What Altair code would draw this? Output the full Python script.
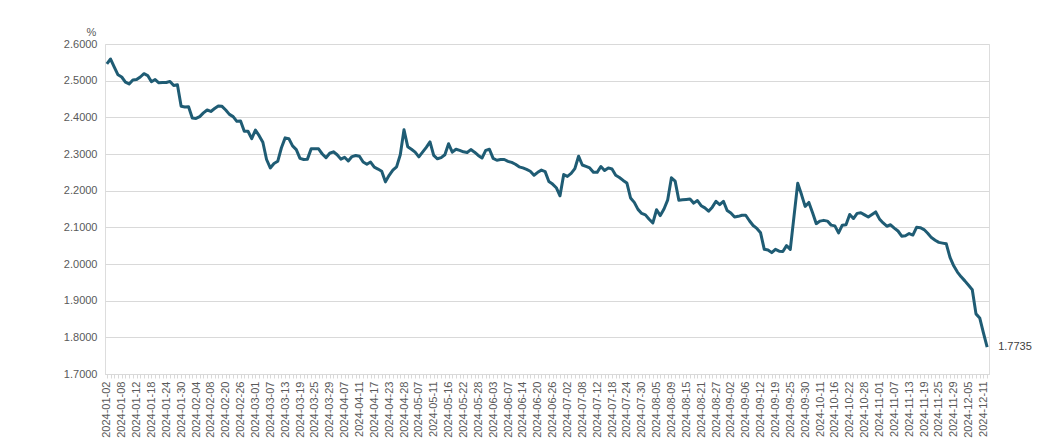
import altair as alt
import pandas as pd

# China interbank trading calendar 2024 (weekdays minus holidays plus weekend make-up days)
first_day, last_day = "2024-01-02", "2024-12-12"
holidays = ["2024-01-01", "2024-02-12", "2024-02-13", "2024-02-14", "2024-02-15", "2024-02-16",
            "2024-04-04", "2024-04-05", "2024-05-01", "2024-05-02", "2024-05-03", "2024-06-10",
            "2024-09-16", "2024-09-17", "2024-10-01", "2024-10-02", "2024-10-03", "2024-10-04",
            "2024-10-07"]
makeup_days = ["2024-02-04", "2024-02-18", "2024-04-07", "2024-04-28", "2024-05-11",
               "2024-09-14", "2024-09-29", "2024-10-12"]

bdays = set(pd.bdate_range(first_day, last_day).strftime("%Y-%m-%d"))
days = sorted((bdays - set(holidays)) | set(makeup_days))

# yield values (%), per quarter
q1 = [2.546, 2.559, 2.537, 2.516, 2.510, 2.496, 2.491, 2.502, 2.503, 2.510,
      2.519, 2.514, 2.497, 2.503, 2.494, 2.495, 2.495, 2.498, 2.487, 2.489,
      2.430, 2.428, 2.429, 2.398, 2.397, 2.402, 2.412, 2.420, 2.416, 2.424,
      2.431, 2.430, 2.420, 2.408, 2.402, 2.389, 2.390, 2.362, 2.362, 2.342,
      2.365, 2.350, 2.332, 2.285, 2.262, 2.274, 2.280, 2.317, 2.344, 2.342,
      2.322, 2.312, 2.288, 2.285, 2.286, 2.314, 2.314, 2.314, 2.300, 2.290,
      2.302]
q2 = [2.306, 2.298, 2.286, 2.291, 2.281, 2.293, 2.296, 2.294, 2.278, 2.272,
      2.278, 2.264, 2.259, 2.253, 2.224, 2.242, 2.256, 2.265, 2.298, 2.366,
      2.320, 2.313, 2.305, 2.292, 2.305, 2.318, 2.333, 2.296, 2.287, 2.290,
      2.298, 2.328, 2.305, 2.313, 2.310, 2.306, 2.304, 2.312, 2.305, 2.296,
      2.289, 2.310, 2.313, 2.288, 2.283, 2.285, 2.285, 2.280, 2.277, 2.272,
      2.265, 2.262, 2.258, 2.253, 2.242, 2.250, 2.256, 2.252, 2.225, 2.218,
      2.208, 2.186]
q3 = [2.244, 2.239, 2.247, 2.260, 2.294, 2.270, 2.266, 2.262, 2.250, 2.250,
      2.266, 2.255, 2.262, 2.259, 2.242, 2.236, 2.228, 2.221, 2.180, 2.168,
      2.149, 2.138, 2.134, 2.122, 2.112, 2.148, 2.132, 2.150, 2.175, 2.235,
      2.226, 2.174, 2.175, 2.176, 2.177, 2.166, 2.173, 2.159, 2.153, 2.144,
      2.155, 2.171, 2.162, 2.171, 2.146, 2.139, 2.128, 2.130, 2.133, 2.133,
      2.118, 2.105, 2.097, 2.085, 2.040, 2.038, 2.031, 2.040, 2.035, 2.034,
      2.050, 2.040, 2.130, 2.220, 2.190, 2.157]
q4 = [2.168, 2.140, 2.110, 2.117, 2.119, 2.117, 2.106, 2.104, 2.085, 2.106,
      2.107, 2.135, 2.124, 2.138, 2.140, 2.134, 2.128, 2.135, 2.142, 2.123,
      2.112, 2.103, 2.107, 2.098, 2.090, 2.076, 2.077, 2.083, 2.079, 2.100,
      2.099, 2.094, 2.084, 2.072, 2.065, 2.059, 2.057, 2.055, 2.018, 1.995,
      1.978, 1.965, 1.954, 1.942, 1.930, 1.864, 1.853, 1.812, 1.7735]
values = q1 + q2 + q3 + q4

y_ticks = [1.7, 1.8, 1.9, 2.0, 2.1, 2.2, 2.3, 2.4, 2.5, 2.6]
shown_labels = days[::4]

df = pd.DataFrame({"date": days, "value": values})

label_list = "[" + ",".join("'%s'" % d for d in shown_labels) + "]"
grey = "#595959"
line_color = "#1f5c74"

x_enc = alt.X(
    "date:O",
    sort=None,
    scale=alt.Scale(type="point", padding=0.5, domain=days),
    axis=alt.Axis(
        title=None,
        grid=False,
        labelExpr="indexof(" + label_list + ", datum.value) >= 0 ? datum.value : ''",
        labelAngle=270,
        labelAlign="right",
        labelBaseline="middle",
        labelOverlap=False,
        labelFontSize=11,
        labelColor=grey,
        labelPadding=3,
        domainColor="#d9d9d9",
        tickColor="#d9d9d9",
        tickSize=4,
    ),
)
y_enc = alt.Y(
    "value:Q",
    scale=alt.Scale(domain=[1.7, 2.6], nice=False, zero=False),
    axis=alt.Axis(
        values=y_ticks,
        format=".4f",
        title="%",
        titleAngle=0,
        titleX=-14,
        titleY=-12,
        titleAlign="center",
        titleBaseline="middle",
        titleFontWeight="normal",
        titleFontSize=11,
        titleColor=grey,
        domain=False,
        ticks=False,
        labelPadding=8,
        labelFontSize=11,
        labelColor=grey,
        gridColor="#d9d9d9",
    ),
)

line = alt.Chart(df).mark_line(color=line_color, strokeWidth=3, strokeJoin="round").encode(
    x=x_enc, y=y_enc
)
last_label = alt.Chart(df).transform_filter(alt.datum.date == days[-1]).mark_text(
    align="left", baseline="middle", dx=11, fontSize=11, color="#404040"
).encode(x=x_enc, y=y_enc, text=alt.Text("value:Q", format=".4f"))

chart = (
    alt.layer(line, last_label)
    .properties(
        width=884,
        height=330,
        autosize="none",
        padding={"left": 97, "top": 36, "right": 45, "bottom": 70},
    )
    .configure_view(stroke=None)
    .configure(font="Liberation Sans")
)

chart.save("out.html", embed_options={"renderer": "svg", "actions": False})
